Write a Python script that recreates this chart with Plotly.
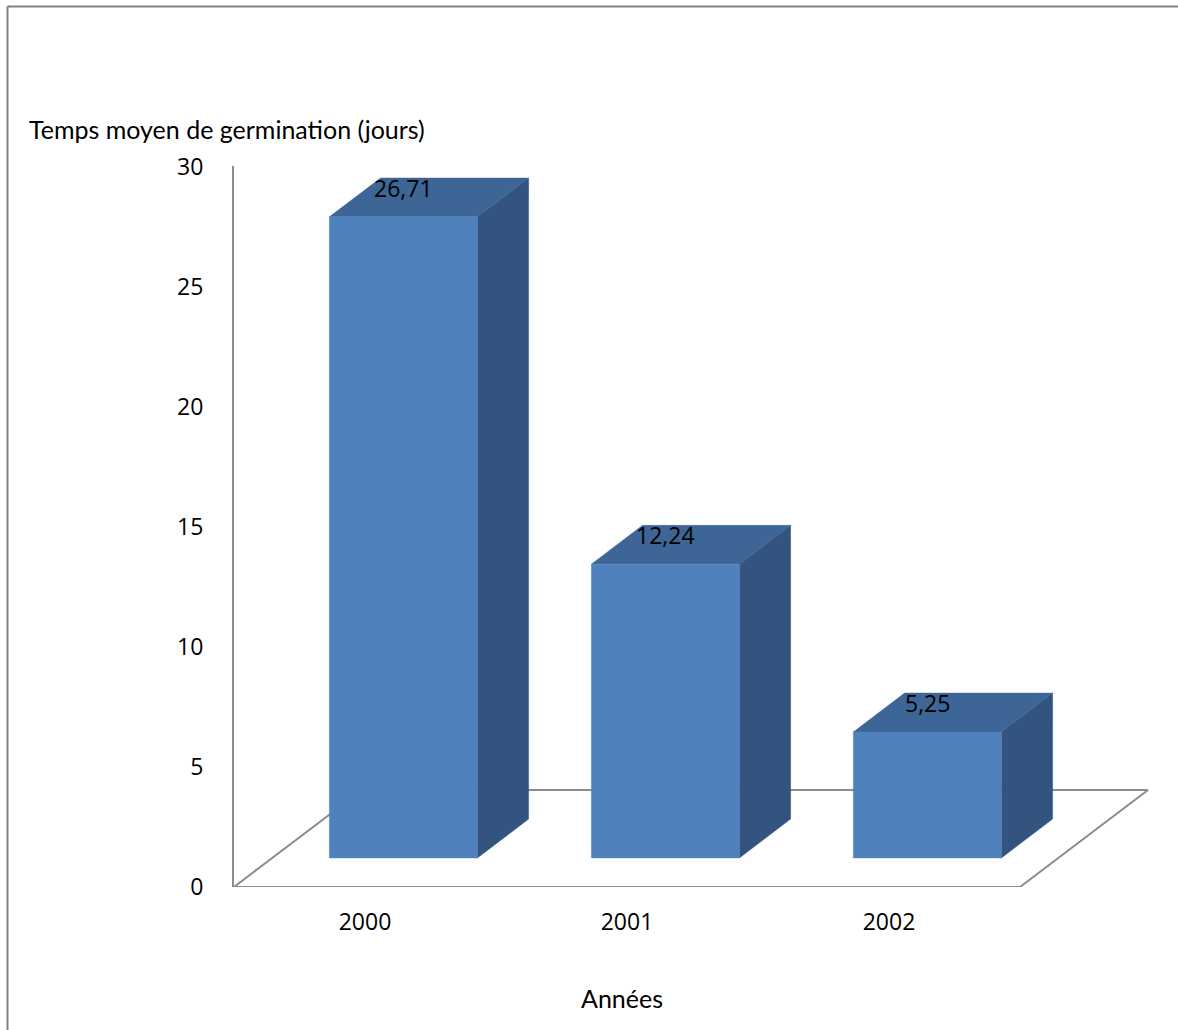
import plotly.graph_objects as go

# ---- data ----
categories = ["2000", "2001", "2002"]
values = [26.71, 12.24, 5.25]
y_ticks = [0, 5, 10, 15, 20, 25, 30]
y_title = "Temps moyen de germination (jours)"
x_title = "Années"

# ---- layout constants (pseudo-3D geometry, in axis units) ----
W, H = 1178, 1030
PLOT_L, PLOT_R, PLOT_T, PLOT_B = 234, 1160, 166, 887
PX_CAT = 262.0   # pixels per category
PX_UNIT = 24.0   # pixels per value unit
FLOOR_DX = 128 / PX_CAT
FLOOR_DY = 97 / PX_UNIT
D_FRONT, D_BACK = 0.30, 0.70
BAR_W = 148 / PX_CAT

FRONT = "#4F81BD"
TOP = "#3D6595"
SIDE = "#32547F"
GRID = "#8C8C8C"
FONT = "Open Sans"
NARROW = "Lato"

xr = [-0.5, -0.5 + (PLOT_R - PLOT_L) / PX_CAT]
yr = [0, (PLOT_B - PLOT_T) / PX_UNIT]

fig = go.Figure()

# floor
n = len(categories)
fx0, fx1 = -0.5, n - 0.5
fig.add_trace(go.Scatter(
    x=[fx0, fx1, fx1 + FLOOR_DX, fx0 + FLOOR_DX, fx0],
    y=[0, 0, FLOOR_DY, FLOOR_DY, 0],
    mode="lines", line=dict(color=GRID, width=2),
    hoverinfo="skip", showlegend=False))

ox = D_FRONT * FLOOR_DX
oy = D_FRONT * FLOOR_DY
dx = (D_BACK - D_FRONT) * FLOOR_DX
dy = (D_BACK - D_FRONT) * FLOOR_DY

def poly(xs, ys, color):
    fig.add_trace(go.Scatter(
        x=xs + [xs[0]], y=ys + [ys[0]], mode="lines", fill="toself",
        fillcolor=color, line=dict(color=color, width=0.5),
        hoverinfo="skip", showlegend=False))

for i, v in enumerate(values):
    xl = i + ox - BAR_W / 2
    xrr = i + ox + BAR_W / 2
    yb = oy
    yt = v + oy
    poly([xrr, xrr + dx, xrr + dx, xrr], [yb, yb + dy, yt + dy, yt], SIDE)
    poly([xl, xrr, xrr + dx, xl + dx], [yt, yt, yt + dy, yt + dy], TOP)
    poly([xl, xrr, xrr, xl], [yb, yb, yt, yt], FRONT)
    fig.add_annotation(
        x=i + ox, y=yt + 29 / PX_UNIT, xref="x", yref="y",
        text=f"{v:.2f}".replace(".", ","), showarrow=False,
        font=dict(family=FONT, size=23, color="#000000"),
        xanchor="center", yanchor="middle")

fig.update_layout(
    width=W, height=H, autosize=False,
    margin=dict(l=0, r=0, t=0, b=0, pad=0, autoexpand=False),
    paper_bgcolor="white", plot_bgcolor="white",
    xaxis=dict(
        domain=[PLOT_L / W, PLOT_R / W], range=xr, automargin=False,
        tickvals=list(range(n)), ticktext=categories,
        showgrid=False, zeroline=False, showline=False,
        ticks="", ticklabelstandoff=19,
        tickfont=dict(family=FONT, size=23, color="#000000"),
        fixedrange=True),
    yaxis=dict(
        domain=[1 - PLOT_B / H, 1 - PLOT_T / H], range=yr, automargin=False,
        tickvals=y_ticks, ticktext=[str(t) for t in y_ticks],
        showgrid=False, zeroline=False,
        showline=True, linecolor=GRID, linewidth=2,
        ticks="", ticklabelstandoff=24,
        tickfont=dict(family=FONT, size=23, color="#000000"),
        fixedrange=True),
    shapes=[
        dict(type="line", xref="paper", yref="paper",
             x0=7.5 / W, x1=1.0, y0=1 - 6.5 / H, y1=1 - 6.5 / H,
             line=dict(color="#808080", width=2)),
        dict(type="line", xref="paper", yref="paper",
             x0=7.5 / W, x1=7.5 / W, y0=0, y1=1 - 6.5 / H,
             line=dict(color="#808080", width=2)),
    ],
)

fig.add_annotation(
    x=27 / W, y=1 - 129 / H, xref="paper", yref="paper",
    text=y_title, showarrow=False, xanchor="left", yanchor="middle",
    font=dict(family=NARROW, size=25, color="#000000"))
fig.add_annotation(
    x=622 / W, y=1 - 998 / H, xref="paper", yref="paper",
    text=x_title, showarrow=False, xanchor="center", yanchor="middle",
    font=dict(family=NARROW, size=25, color="#000000"))

fig.write_html("out.html")
